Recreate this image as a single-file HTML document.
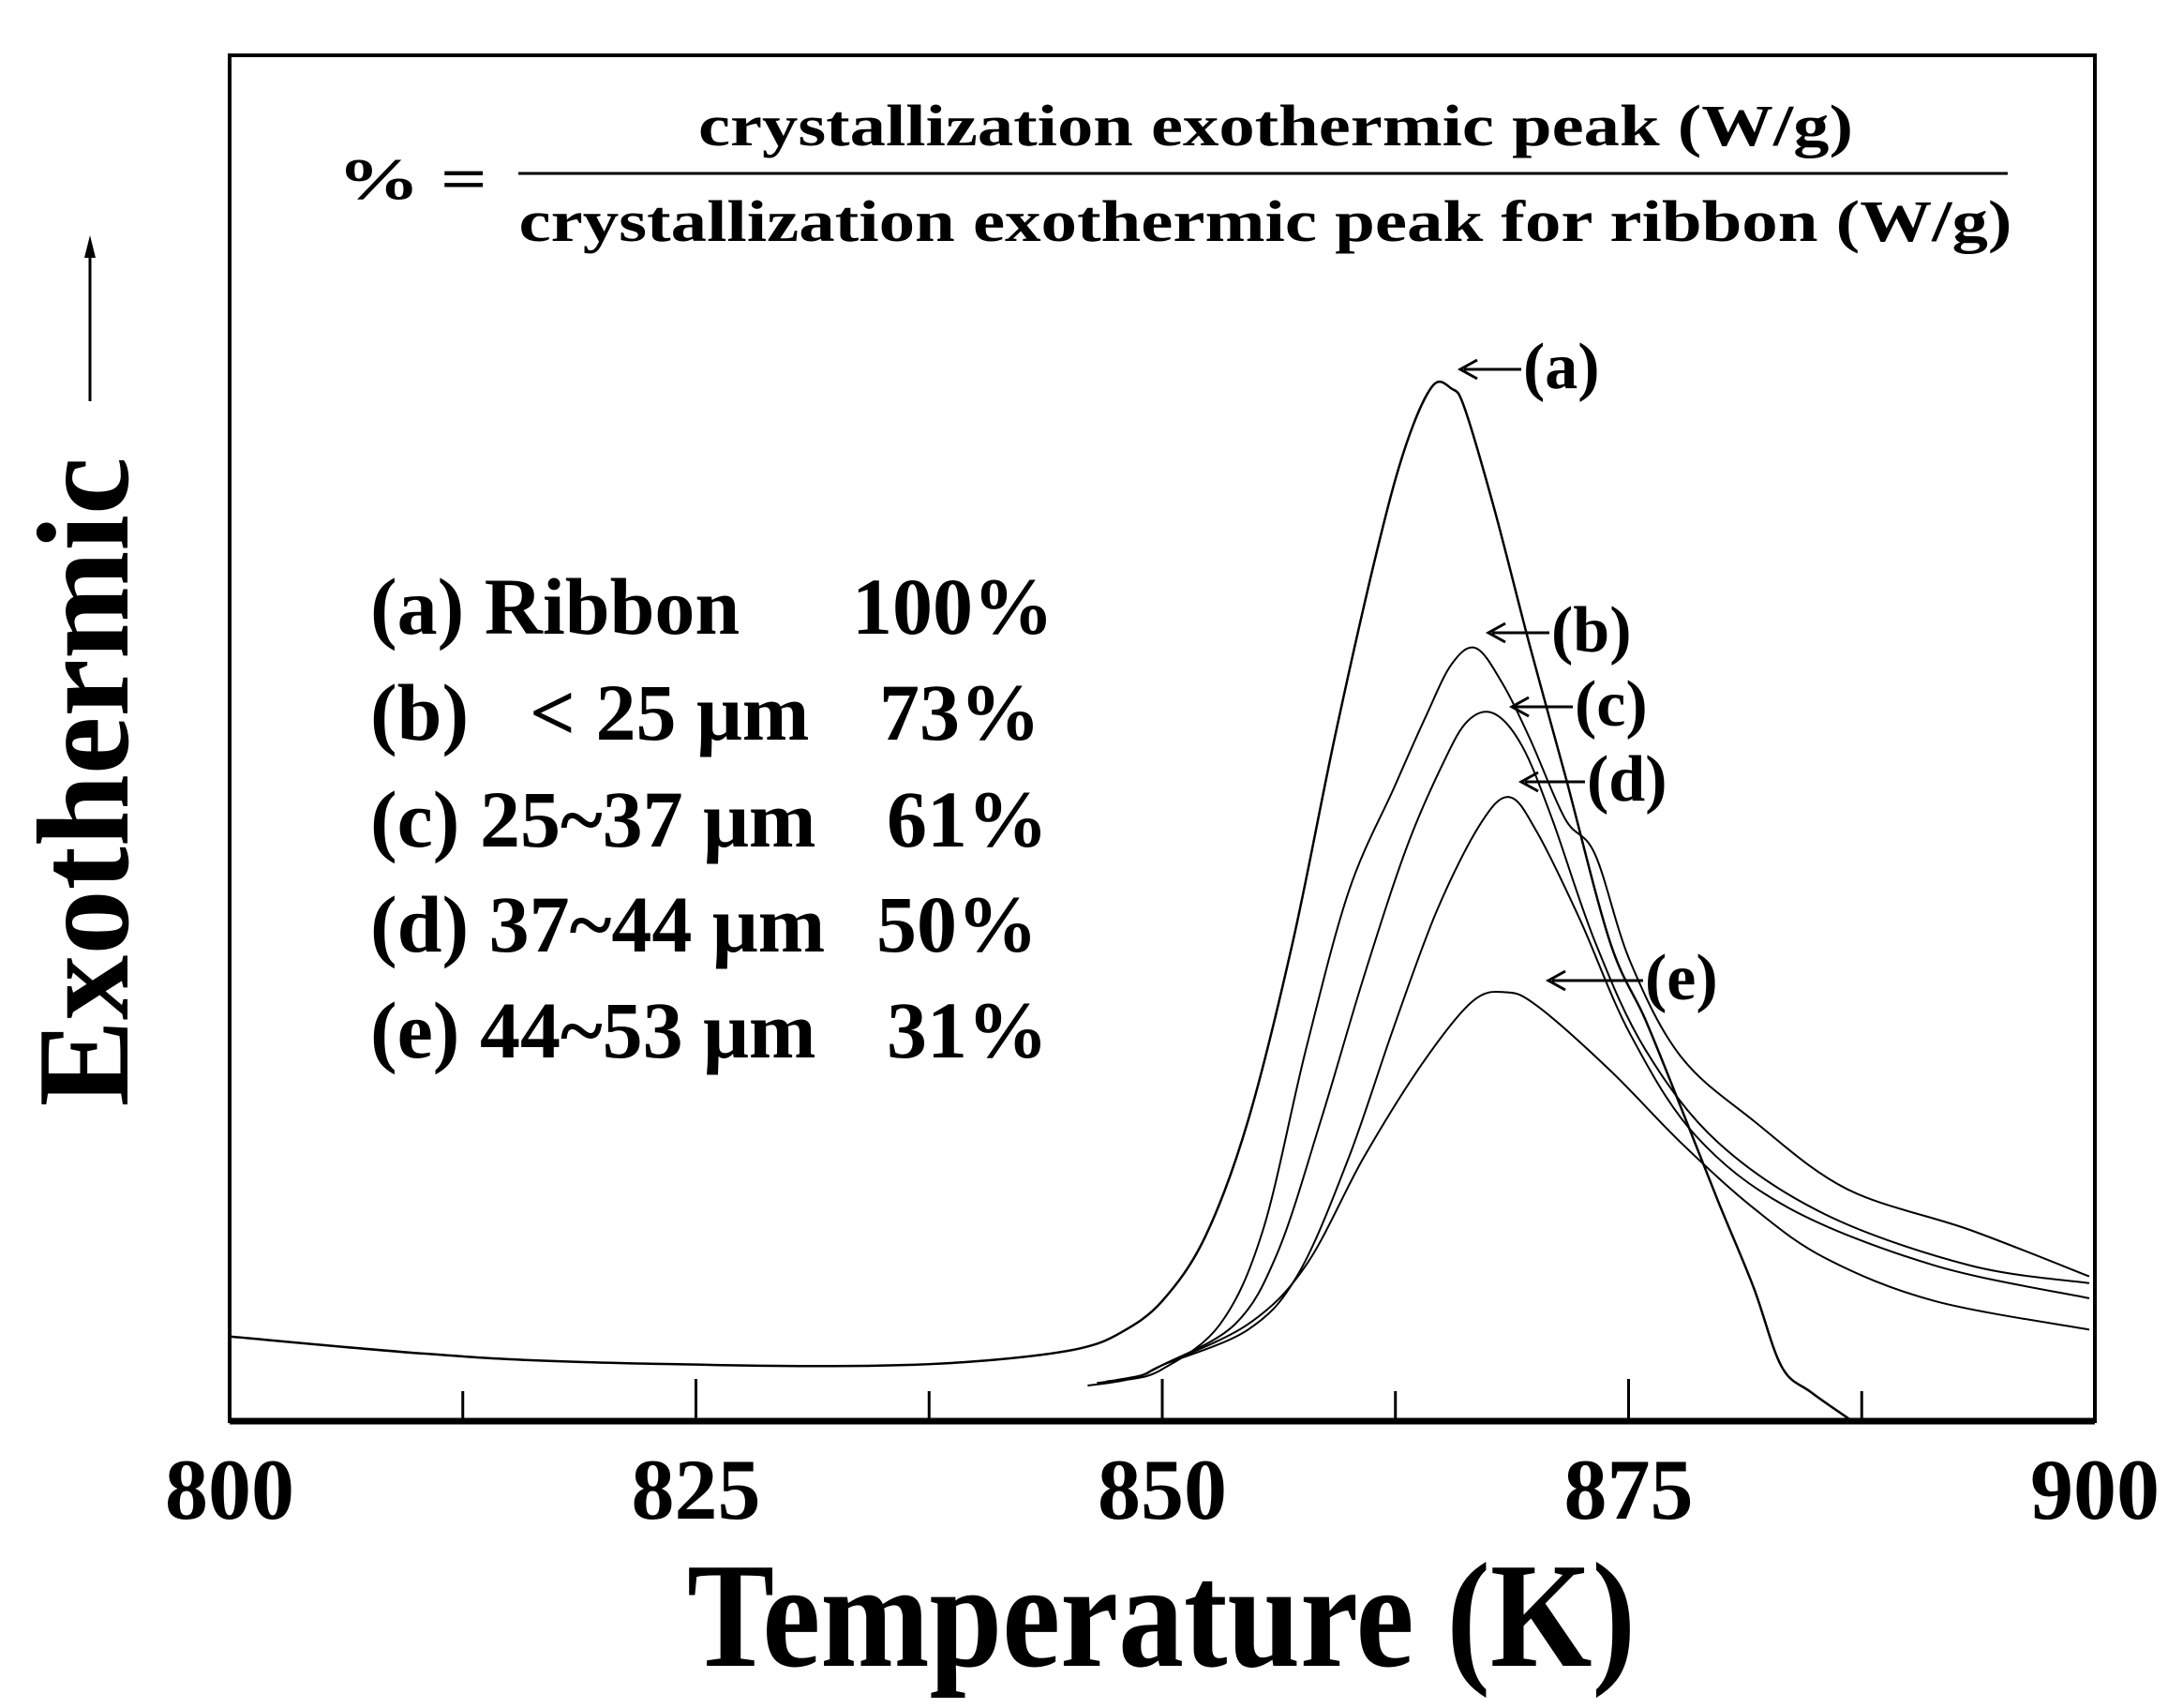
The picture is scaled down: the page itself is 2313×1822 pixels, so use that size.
<!DOCTYPE html>
<html><head><meta charset="utf-8"><style>
html,body{margin:0;padding:0;background:#fff;}
svg{display:block;font-family:"Liberation Serif",serif;font-weight:bold;}
</style></head><body>
<svg id="chart" width="2313" height="1822" viewBox="0 0 2313 1822" xmlns="http://www.w3.org/2000/svg">
<rect width="2313" height="1822" fill="#fff"/>
<g id="curves"></g>
<rect x="245" y="59" width="1990" height="1457" fill="none" stroke="#000" stroke-width="4"/>
<line x1="245" y1="1516" x2="2235" y2="1516" stroke="#000" stroke-width="7"/>
<g id="ticks"></g>
<text x="1239" y="1777" font-size="160" text-anchor="middle" textLength="1012" lengthAdjust="spacingAndGlyphs">Temperature (K)</text>
<text transform="translate(136,834) rotate(-90)" font-size="140" text-anchor="middle" textLength="693" lengthAdjust="spacingAndGlyphs">Exothermic</text>
<g>
<line x1="96" y1="428" x2="96" y2="268" stroke="#000" stroke-width="3"/>
<polygon points="96,251 90,275 102,275" fill="#000"/>
</g>
<g font-size="62">
<text x="360" y="212" textLength="160" lengthAdjust="spacingAndGlyphs">% =</text>
<text x="1361" y="155" text-anchor="middle" textLength="1232" lengthAdjust="spacingAndGlyphs">crystallization exothermic peak (W/g)</text>
<line x1="553" y1="185" x2="2142" y2="185" stroke="#000" stroke-width="3"/>
<text x="1350" y="257" text-anchor="middle" textLength="1593" lengthAdjust="spacingAndGlyphs">crystallization exothermic peak for ribbon (W/g)</text>
</g>
<g font-size="86">
<text x="395" y="676">(a) Ribbon</text>
<text x="1124" y="676" text-anchor="end">100%</text>
<text x="395" y="789">(b) <tspan x="565">&lt; 25 μm</tspan></text>
<text x="1110" y="789" text-anchor="end">73%</text>
<text x="395" y="903">(c) 25~37 μm</text>
<text x="1118" y="903" text-anchor="end">61%</text>
<text x="395" y="1015">(d) 37~44 μm</text>
<text x="1107" y="1015" text-anchor="end">50%</text>
<text x="395" y="1128">(e) 44~53 μm</text>
<text x="1118" y="1128" text-anchor="end">31%</text>
</g>
<g id="labels" font-size="70"></g>
</svg>
<script>
const NS="http://www.w3.org/2000/svg";
const xTicks=[800,825,850,875,900];
const minorTicks=[812.5,837.5,862.5,887.5];
const seriesNames=["a","b","c","d","e"];
const tA=[800,809.9,817.3,829.2,835.9,841.1,845.5,847.8,850,852.3,854.6,857,859.3,861.6,863.1,864.5,865.5,866.2,867.8,869.7,871.6,874,875.9,877.8,879.8,881.7,883.2,884.8,887];
const vA=[6.2,5.0,4.4,4.05,4.1,4.5,5.3,6.5,8.8,13.5,22.0,35.1,50.4,64.2,71.6,75.8,75.6,74.2,66.8,56.8,47.3,35.1,29.4,23.0,16.1,9.8,4.0,2.1,0];
const tB=[846,848,850,853.1,855.4,857.7,860,862.4,864.1,865.5,866.8,868.2,869.7,871.6,873.2,875.1,877.8,881.7,886.7,893.3,899.7];
const vB=[2.6,3.0,3.8,7.1,14.0,27.2,38.8,46.3,51.5,55.4,56.6,54.1,50.0,44.1,41.5,33.6,26.7,22.0,17.0,14.0,10.6];
const tC=[846.5,848.5,850,853.9,856.2,858.5,860.8,863.1,865.1,866.4,867.8,869.3,870.9,873.2,875.9,879.8,885.6,893.3,899.7];
const vC=[2.8,3.2,4.1,7.1,12.4,22.0,32.5,42.0,48.3,51.3,51.8,49.4,44.1,35.1,27.2,20.4,15.1,11.4,10.1];
const tD=[847,848.8,850,854.6,857.3,860,862.4,864.7,867,868.6,870.1,872.4,875.1,878.6,883.6,891.4,899.7];
const vD=[2.9,3.3,4.1,6.7,10.8,19.3,28.8,37.3,43.6,45.7,43.1,36.7,28.3,20.9,15.6,11.4,9.0];
const tE=[847.5,849,850,854.6,857.7,860.8,863.9,866.6,868.4,870.1,874,877.8,881.7,885.6,891.4,899.7];
const vE=[3.0,3.4,4.1,7.1,11.4,19.3,26.1,30.7,31.4,30.4,25.7,20.4,15.6,11.9,8.8,6.7];
const labelText=["(a)","(b)","(c)","(d)","(e)"];
const X0=245,X1=2235,Y0=1516,Y1=59;
function xs(t){return X0+(t-800)/100*(X1-X0);}
function ys(v){return Y0-v/100*(Y0-Y1);}
function path(ts,vs){
  const p=ts.map((t,i)=>[xs(t),ys(vs[i])]);
  let d="M"+p[0][0].toFixed(1)+","+p[0][1].toFixed(1);
  for(let i=0;i<p.length-1;i++){
    const p0=p[i-1]||p[i],p1=p[i],p2=p[i+1],p3=p[i+2]||p2;
    const c1x=p1[0]+(p2[0]-p0[0])/6,c1y=p1[1]+(p2[1]-p0[1])/6;
    const c2x=p2[0]-(p3[0]-p1[0])/6,c2y=p2[1]-(p3[1]-p1[1])/6;
    d+="C"+c1x.toFixed(1)+","+c1y.toFixed(1)+" "+c2x.toFixed(1)+","+c2y.toFixed(1)+" "+p2[0].toFixed(1)+","+p2[1].toFixed(1);
  }
  return d;
}
const cg=document.getElementById("curves");
const data=[[tA,vA],[tB,vB],[tC,vC],[tD,vD],[tE,vE]];
data.forEach((s,i)=>{
  const el=document.createElementNS(NS,"path");
  el.setAttribute("d",path(s[0],s[1]));
  el.setAttribute("fill","none");el.setAttribute("stroke","#000");
  el.setAttribute("stroke-width",i===0?"2.5":"2");
  
  
  cg.appendChild(el);
});
const tg=document.getElementById("ticks");
xTicks.forEach(t=>{
  if(t>800&&t<900){
    const l=document.createElementNS(NS,"line");
    l.setAttribute("x1",xs(t));l.setAttribute("x2",xs(t));
    l.setAttribute("y1",Y0);l.setAttribute("y2",Y0-45);
    l.setAttribute("stroke","#000");l.setAttribute("stroke-width","3");
    
    
    tg.appendChild(l);
  }
  const tx=document.createElementNS(NS,"text");
  tx.setAttribute("x",xs(t));tx.setAttribute("y",1620);
  tx.setAttribute("text-anchor","middle");tx.setAttribute("font-size","92");
  tx.textContent=t;
  
  
  tg.appendChild(tx);
});
minorTicks.forEach(t=>{
  const l=document.createElementNS(NS,"line");
  l.setAttribute("x1",xs(t));l.setAttribute("x2",xs(t));
  l.setAttribute("y1",Y0);l.setAttribute("y2",Y0-32);
  l.setAttribute("stroke","#000");l.setAttribute("stroke-width","3");
  
  
  tg.appendChild(l);
});
// label positions (arrow start x, text x, y) in pixels
const labelPos=[[1558,1625,414],[1588,1655,695],[1613,1680,774],[1623,1693,854],[1652,1755,1066]];
const lg=document.getElementById("labels");
labelPos.forEach((p,i)=>{
  const y=p[2]-20;
  const l=document.createElementNS(NS,"line");
  l.setAttribute("x1",p[0]+4);l.setAttribute("x2",p[1]-2);l.setAttribute("y1",y);l.setAttribute("y2",y);
  l.setAttribute("stroke","#000");l.setAttribute("stroke-width","3");
  
  
  lg.appendChild(l);
  const h=document.createElementNS(NS,"path");
  h.setAttribute("d","M"+(p[0]+18)+","+(y-10)+" L"+p[0]+","+y+" L"+(p[0]+18)+","+(y+10));
  h.setAttribute("fill","none");h.setAttribute("stroke","#000");h.setAttribute("stroke-width","3");
  
  
  lg.appendChild(h);
  const tx=document.createElementNS(NS,"text");
  tx.setAttribute("x",p[1]);tx.setAttribute("y",p[2]);
  tx.textContent=labelText[i];
  
  
  lg.appendChild(tx);
});
</script>
</body></html>
